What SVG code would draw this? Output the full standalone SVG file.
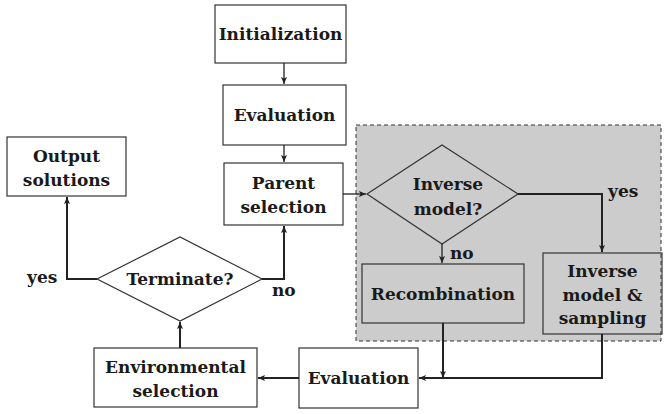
<svg xmlns="http://www.w3.org/2000/svg" width="664" height="414" viewBox="0 0 664 414">
<defs>
<style>
.box{fill:#fff;stroke:#333;stroke-width:1.2}
.gbox{fill:none;stroke:#333;stroke-width:1.2}
.t{font-family:"DejaVu Serif","Liberation Serif",serif;font-weight:bold;font-size:17px;fill:#1a1a1a;text-anchor:middle}
.l{font-family:"DejaVu Serif","Liberation Serif",serif;font-weight:bold;font-size:17px;fill:#1a1a1a}
.c{fill:none;stroke:#222;stroke-width:1.3;marker-end:url(#ah)}
.ct{fill:none;stroke:#222;stroke-width:2;marker-end:url(#ah)}
</style>
<marker id="ah" markerUnits="userSpaceOnUse" markerWidth="8" markerHeight="8" refX="7" refY="4" orient="auto">
<path d="M0,1 L7,4 L0,7 L1.5,4 Z" fill="#222"/>
</marker>
</defs>
<rect x="0" y="0" width="664" height="414" fill="#fff"/>
<g id="region">
<rect x="356" y="125" width="305" height="216" fill="#cccccc" stroke="#333" stroke-width="1" stroke-dasharray="4,3"/>
</g>
<g id="initialization">
<rect class="box" x="215" y="5" width="131" height="58"/>
<text class="t" x="280.5" y="40">Initialization</text>
</g>
<g id="evaluation1">
<rect class="box" x="223" y="85" width="123" height="60"/>
<text class="t" x="284.5" y="121">Evaluation</text>
</g>
<g id="parent">
<rect class="box" x="224" y="163" width="119" height="62"/>
<text class="t" x="283.5" y="189">Parent</text>
<text class="t" x="283.5" y="213">selection</text>
</g>
<g id="output">
<rect class="box" x="7" y="137" width="119" height="59"/>
<text class="t" x="66.5" y="162">Output</text>
<text class="t" x="66.5" y="186">solutions</text>
</g>
<g id="terminate">
<polygon class="box" points="97,279 180,237 262,279 180,321"/>
<text class="t" x="180" y="285">Terminate?</text>
</g>
<g id="inverse-q">
<polygon class="gbox" points="367,194 442,145 518,194 442,244"/>
<text class="t" x="448" y="190">Inverse</text>
<text class="t" x="448" y="215">model?</text>
</g>
<g id="recombination">
<rect class="gbox" x="362" y="264" width="162" height="59"/>
<text class="t" x="443" y="300">Recombination</text>
</g>
<g id="inverse-model">
<rect class="gbox" x="543" y="253" width="119" height="81"/>
<text class="t" x="602.5" y="277">Inverse</text>
<text class="t" x="602.5" y="301">model &amp;</text>
<text class="t" x="602.5" y="324">sampling</text>
</g>
<g id="environmental">
<rect class="box" x="94" y="348" width="163" height="59"/>
<text class="t" x="175.5" y="373">Environmental</text>
<text class="t" x="175.5" y="397">selection</text>
</g>
<g id="evaluation2">
<rect class="box" x="299" y="348" width="119" height="60"/>
<text class="t" x="358.5" y="384">Evaluation</text>
</g>
<g id="connectors">
<path class="c" d="M284,63 V84"/>
<path class="c" d="M284,145 V162"/>
<path class="c" d="M343,194 H366"/>
<path class="ct" d="M518,194 H602 V252"/>
<path class="c" d="M442,244 V263"/>
<path class="ct" d="M443,323 V378"/>
<path class="ct" d="M602,334 V378 H419"/>
<path class="ct" d="M299,378 H258"/>
<path class="ct" d="M180,348 V322"/>
<path class="ct" d="M97,279 H67 V197"/>
<path class="ct" d="M262,279 H284 V226"/>
<text class="l" x="27" y="283">yes</text>
<text class="l" x="272" y="296">no</text>
<text class="l" x="608" y="197">yes</text>
<text class="l" x="450" y="259">no</text>
</g>
</svg>
